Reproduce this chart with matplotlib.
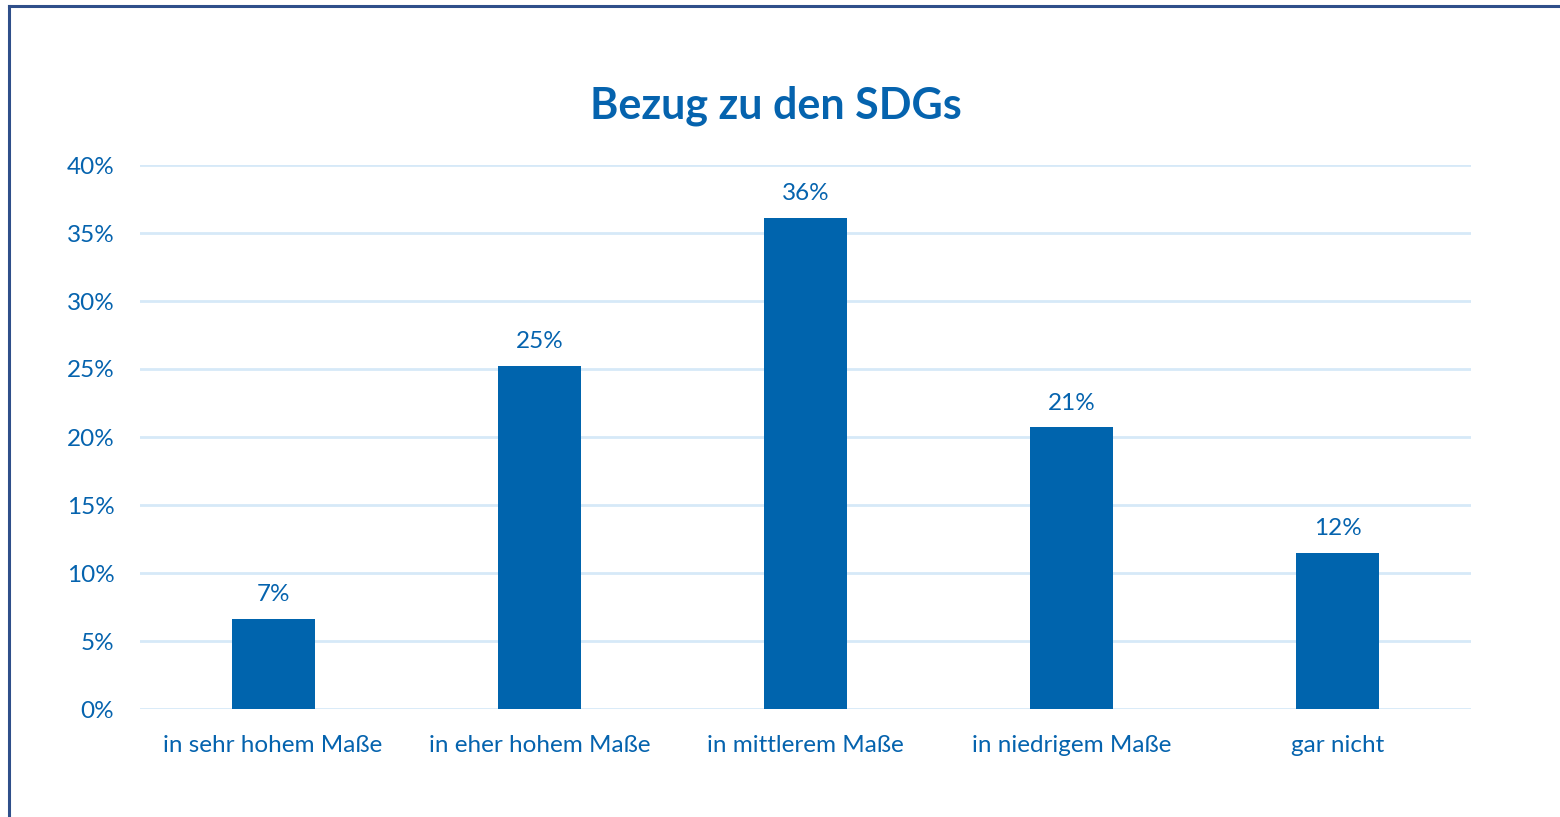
import matplotlib.pyplot as plt
from matplotlib.lines import Line2D

categories = ['in sehr hohem Maße', 'in eher hohem Maße', 'in mittlerem Maße',
              'in niedrigem Maße', 'gar nicht']
shares = [6.6, 25.2, 36.1, 20.7, 11.5]
labels = ['7%', '25%', '36%', '21%', '12%']
yticks = [0, 5, 10, 15, 20, 25, 30, 35, 40]

barColor = '#0064AD'
textColor = '#0563AE'
gridColor = '#D6E9F8'
frameColor = '#2F4F8A'

plt.rcParams['font.family'] = ['Lato', 'DejaVu Sans']

fig = plt.figure(figsize=(15.6, 8.17), dpi=100)
ax = fig.add_axes([140 / 1560, 1 - 709 / 817, 1331 / 1560, 544 / 817])

x = range(len(categories))
ax.bar(x, shares, width=0.312, color=barColor, zorder=3)
for i in x:
    ax.annotate(labels[i], xy=(i, shares[i]), xytext=(0, 10),
                textcoords='offset points', ha='center', va='bottom',
                fontsize=17.5, color=textColor)

ax.set_xlim(-0.5, len(categories) - 0.5)
ax.set_ylim(0, 40)
ax.set_yticks(yticks)
ax.set_yticklabels(['{0}%'.format(v) for v in yticks])
ax.set_xticks(list(x))
ax.set_xticklabels(categories)
ax.tick_params(axis='both', length=0, labelsize=17.5, colors=textColor)
ax.tick_params(axis='y', pad=18.5)
ax.tick_params(axis='x', pad=18.5)
ax.grid(axis='y', color=gridColor, linewidth=2, zorder=0)
for s in ax.spines.values():
    s.set_visible(False)

fig.text(776 / 1560, 1 - 106 / 817, 'Bezug zu den SDGs', ha='center', va='center',
         fontsize=31, fontweight='bold', color=textColor)

# outer frame (left and top edges visible)
fig.add_artist(Line2D([9 / 1560, 9 / 1560], [0, 1 - 6 / 817], transform=fig.transFigure,
                      color=frameColor, linewidth=2.2))
fig.add_artist(Line2D([9 / 1560, 1], [1 - 6 / 817, 1 - 6 / 817], transform=fig.transFigure,
                      color=frameColor, linewidth=2.2))

fig.savefig('out.png', dpi=100)
